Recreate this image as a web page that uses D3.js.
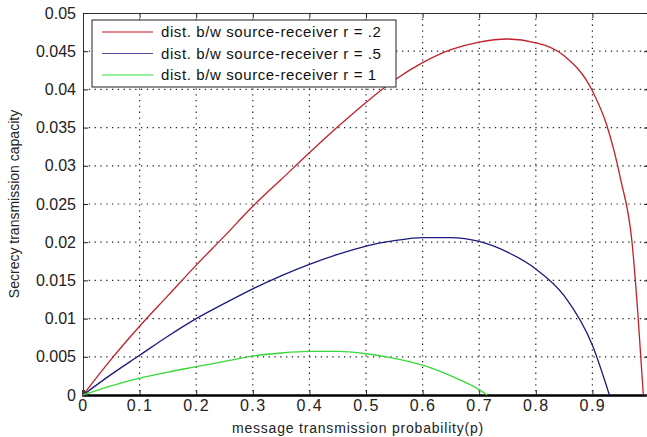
<!DOCTYPE html>
<html>
<head>
<meta charset="utf-8">
<script src="https://cdn.jsdelivr.net/npm/d3@7"></script>
<style>
  body { margin: 0; background: #fff; }
  svg { display: block; font-family: "Liberation Sans", Arial, sans-serif; }
</style>
</head>
<body>
<svg id="chart" width="647" height="437"></svg>
<script>
// values
var pRed   = [0, 0.05, 0.1, 0.15, 0.2, 0.25, 0.3, 0.35, 0.4, 0.45, 0.5, 0.55, 0.6, 0.65, 0.7, 0.75, 0.8, 0.85, 0.9, 0.925, 0.95, 0.97, 0.98, 0.99];
var capRed = [0, 0.0047, 0.0090, 0.0130, 0.0170, 0.0208, 0.0247, 0.0282, 0.0317, 0.0351, 0.0383, 0.0412, 0.0435, 0.0452, 0.0462, 0.0466, 0.0461, 0.0444, 0.0398, 0.0354, 0.0282, 0.0200, 0.0110, 0];

var pBlue   = [0, 0.05, 0.1, 0.15, 0.2, 0.25, 0.3, 0.35, 0.4, 0.45, 0.5, 0.55, 0.6, 0.65, 0.7, 0.75, 0.8, 0.85, 0.9, 0.93];
var capBlue = [0, 0.0027, 0.0052, 0.0077, 0.0100, 0.0120, 0.0139, 0.0156, 0.0171, 0.0184, 0.0195, 0.0202, 0.0206, 0.0206, 0.0201, 0.0187, 0.0165, 0.0130, 0.0065, 0];

var pGreen   = [0, 0.05, 0.1, 0.15, 0.2, 0.25, 0.3, 0.35, 0.4, 0.45, 0.5, 0.55, 0.6, 0.65, 0.7, 0.714];
var capGreen = [0, 0.0012, 0.0022, 0.0030, 0.0037, 0.0044, 0.0051, 0.0055, 0.0057, 0.0057, 0.0054, 0.0048, 0.0039, 0.0025, 0.0007, 0];

var xTicks = [0, 0.1, 0.2, 0.3, 0.4, 0.5, 0.6, 0.7, 0.8, 0.9];
var xTickLabels = ["0", "0.1", "0.2", "0.3", "0.4", "0.5", "0.6", "0.7", "0.8", "0.9"];
var yTicks = [0, 0.005, 0.01, 0.015, 0.02, 0.025, 0.03, 0.035, 0.04, 0.045, 0.05];
var yTickLabels = ["0", "0.005", "0.01", "0.015", "0.02", "0.025", "0.03", "0.035", "0.04", "0.045", "0.05"];

var legendLabels = ["dist. b/w source-receiver r = .2", "dist. b/w source-receiver r = .5", "dist. b/w source-receiver r = 1"];

// plot box (note: "top" is taken by window.top)
var plotL = 83, plotR = 649, plotT = 13, plotB = 395;

var svg = d3.select("#chart");
var x = d3.scaleLinear().domain([0, 1]).range([plotL, plotR]);
var y = d3.scaleLinear().domain([0, 0.05]).range([plotB, plotT]);

// grid
var grid = svg.append("g").attr("class", "grid");
grid.selectAll(".vg")
    .data(xTicks.slice(1))
    .enter().append("line")
    .attr("x1", function (d) { return x(d); })
    .attr("x2", function (d) { return x(d); })
    .attr("y1", plotT).attr("y2", plotB)
    .style("stroke", "#222").style("stroke-width", 1.2)
    .style("stroke-dasharray", "1.3,4.5");
grid.selectAll(".hg")
    .data(yTicks.slice(1, -1))
    .enter().append("line")
    .attr("x1", plotL).attr("x2", plotR)
    .attr("y1", function (d) { return y(d); })
    .attr("y2", function (d) { return y(d); })
    .style("stroke", "#222").style("stroke-width", 1.2)
    .style("stroke-dasharray", "1.3,4.5");

// axes, matlab style: ticks pointing inward on all four sides
var bottomAxis = d3.axisBottom(x).tickValues(xTicks).tickSize(-5).tickPadding(4)
    .tickFormat(function (d, i) { return xTickLabels[i]; });
var topAxis = d3.axisTop(x).tickValues(xTicks).tickSize(-5).tickFormat("");
var leftAxis = d3.axisLeft(y).tickValues(yTicks).tickSize(-5).tickPadding(7)
    .tickFormat(function (d, i) { return yTickLabels[i]; });
var rightAxis = d3.axisRight(y).tickValues(yTicks).tickSize(-5).tickFormat("");

var gx = svg.append("g").attr("transform", "translate(0," + plotB + ")").call(bottomAxis);
svg.append("g").attr("transform", "translate(0," + plotT + ")").call(topAxis);
var gy = svg.append("g").attr("transform", "translate(" + plotL + ",0)").call(leftAxis);
svg.append("g").attr("transform", "translate(" + plotR + ",0)").call(rightAxis);

svg.selectAll(".domain").style("stroke", "#333");
svg.selectAll(".tick line").style("stroke", "#222");
gx.select(".domain").style("stroke", "#000").style("stroke-width", 2.5);
svg.selectAll(".tick text").style("font-size", "16px").style("fill", "#222")
    .style("font-family", "'Liberation Sans', Arial, sans-serif");
gx.selectAll(".tick text").attr("dy", "0.75em").style("letter-spacing", "1.5px");

// curves
var series = [
    { p: pRed, v: capRed, color: "#c0202c", legendColor: "#c01020" },
    { p: pBlue, v: capBlue, color: "#1c1a78", legendColor: "#5050a0" },
    { p: pGreen, v: capGreen, color: "#38d838", legendColor: "#30e030" }
];

var line = d3.line()
    .x(function (d) { return x(d[0]); })
    .y(function (d) { return y(d[1]); })
    .curve(d3.curveMonotoneX);

svg.append("g").selectAll("path")
    .data(series)
    .enter().append("path")
    .attr("d", function (s) { return line(d3.zip(s.p, s.v)); })
    .style("fill", "none")
    .style("stroke", function (s) { return s.color; })
    .style("stroke-width", 1.3);

// legend
var lg = svg.append("g");
lg.append("rect")
    .attr("x", 92).attr("y", 20).attr("width", 304).attr("height", 67)
    .style("fill", "#fff").style("stroke", "#222").style("stroke-width", 1);
var rows = lg.selectAll(".row")
    .data(series)
    .enter().append("g")
    .attr("transform", function (d, i) { return "translate(0," + (32 + i * 21.5) + ")"; });
rows.append("line")
    .attr("x1", 102).attr("x2", 153).attr("y1", 0).attr("y2", 0)
    .style("stroke", function (s) { return s.legendColor; }).style("stroke-width", 1.2);
rows.append("text")
    .attr("x", 161).attr("y", 0).attr("dy", "0.36em")
    .style("font-size", "15px").style("fill", "#111").style("letter-spacing", "0.6px")
    .text(function (d, i) { return legendLabels[i]; });

// axis titles
svg.append("text")
    .attr("x", 358).attr("y", 433)
    .attr("text-anchor", "middle")
    .style("font-size", "14px").style("fill", "#222").style("letter-spacing", "0.8px")
    .text("message transmission probability(p)");
svg.append("text")
    .attr("transform", "translate(19,204) rotate(-90)")
    .attr("text-anchor", "middle")
    .style("font-size", "14px").style("fill", "#222")
    .text("Secrecy transmission capacity");
</script>
</body>
</html>
